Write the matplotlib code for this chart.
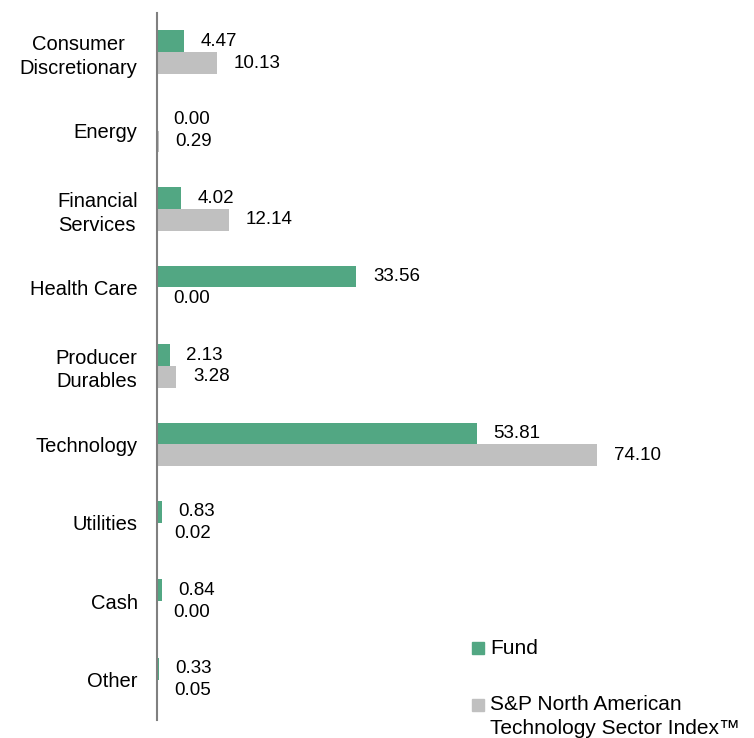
import matplotlib
matplotlib.use("Agg")
import matplotlib.pyplot as plt
from matplotlib.patches import Rectangle
import numpy as np

plt.rcParams['font.family'] = ['Liberation Sans', 'DejaVu Sans']

categories = ["Consumer\nDiscretionary", "Energy", "Financial\nServices", "Health Care",
              "Producer\nDurables", "Technology", "Utilities", "Cash", "Other"]
fund = [4.47, 0.00, 4.02, 33.56, 2.13, 53.81, 0.83, 0.84, 0.33]
index = [10.13, 0.29, 12.14, 0.00, 3.28, 74.10, 0.02, 0.00, 0.05]
series_names = ["Fund", "S&P North American\nTechnology Sector Index\u2122"]

green = "#52A783"
gray = "#C0C0C0"

W, H = 754, 738
fig = plt.figure(figsize=(W / 100, H / 100), dpi=100)
ax = fig.add_axes([157 / W, 1 - 720 / H, (W - 157) / W, (720 - 13) / H])

y = np.arange(len(categories))
bh = 0.28
ax.barh(y - bh / 2, fund, height=bh, color=green)
ax.barh(y + bh / 2, index, height=bh, color=gray)

for i in range(len(categories)):
    ax.annotate(f"{fund[i]:.2f}", xy=(fund[i], y[i] - bh / 2), xytext=(12, 0),
                textcoords="offset points", ha="left", va="center", fontsize=13.5)
    ax.annotate(f"{index[i]:.2f}", xy=(index[i], y[i] + bh / 2), xytext=(12, 0),
                textcoords="offset points", ha="left", va="center", fontsize=13.5)

ax.set_xlim(0, (W - 157) / 5.94)
ax.set_ylim(8.51, -0.497)
ax.set_yticks(y)
ax.set_yticklabels(categories, fontsize=14.5, multialignment="center", linespacing=1.3)
ax.tick_params(axis="y", length=0, pad=14)
ax.set_xticks([])
for s in ["top", "right", "bottom"]:
    ax.spines[s].set_visible(False)
ax.spines["left"].set_color("#808080")
ax.spines["left"].set_linewidth(1.5)

# legend
for (py, col) in [(648, green), (705, gray)]:
    fig.patches.append(Rectangle((472 / W, 1 - (py + 6) / H), 12 / W, 12 / H,
                                 transform=fig.transFigure, color=col))
fig.text(490 / W, 1 - 648 / H, series_names[0], fontsize=15, va="center", ha="left")
fig.text(490 / W, 1 - 695 / H, series_names[1], fontsize=15, va="top", ha="left",
         linespacing=1.3)

fig.savefig("out.png", dpi=100)
